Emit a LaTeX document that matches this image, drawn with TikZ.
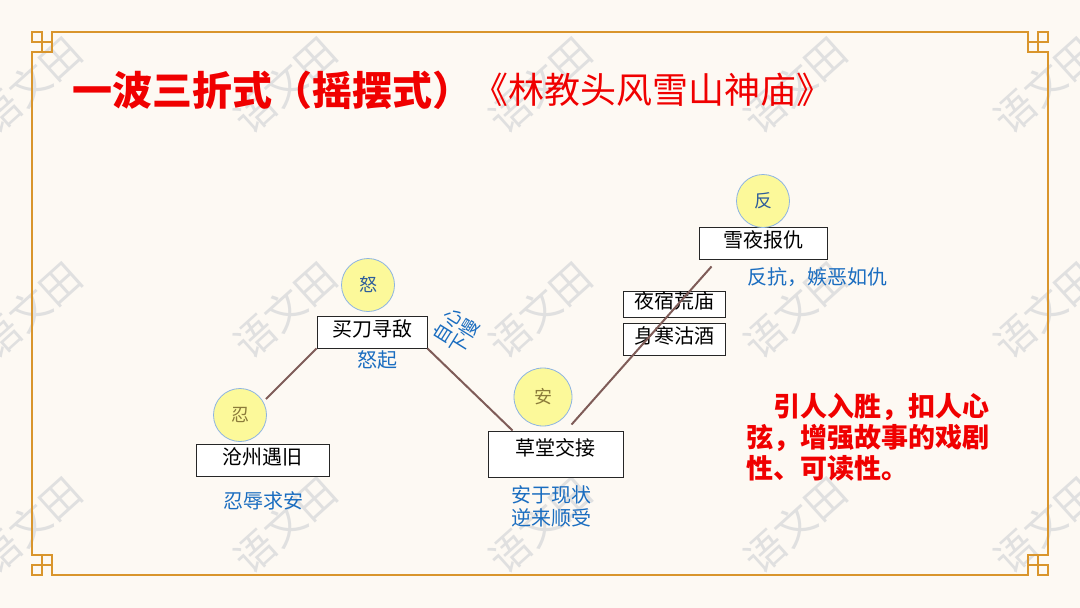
\documentclass[tikz,border=0pt]{standalone}
\usepackage{fontspec}
\setmainfont{Noto Sans CJK SC}
\usetikzlibrary{
  calc,
  positioning
}

\definecolor{paper}{HTML}{FDF9F3}
\definecolor{framegold}{HTML}{D9952C}
\definecolor{moodfill}{HTML}{FCF99A}
\definecolor{moodedge}{HTML}{8DB4E2}
\definecolor{moodbrown}{HTML}{8B7B3B}
\definecolor{moodblue}{HTML}{2E5D9A}
\definecolor{noteblue}{HTML}{1A6DC0}
\definecolor{trendbrown}{HTML}{7F5C58}
\definecolor{titlered}{HTML}{F00000}

\begin{document}
\begin{tikzpicture}[x=1pt, y=-1pt]

\tikzset{
  event/.style={
    draw=black!85,
    fill=white,
    line width=0.9pt,
    inner sep=0pt,
    text depth=7pt,
    font=\fontsize{20}{22}\selectfont
  },
  mood/.style={
    draw=moodedge,
    circle,
    fill=moodfill,
    line width=0.8pt,
    minimum size=53pt,
    inner sep=0pt,
    font=\fontsize{18}{20}\selectfont
  },
  note/.style={
    text=noteblue,
    inner sep=0pt,
    align=center,
    font=\fontsize{20}{23}\selectfont
  },
  trend/.style={
    draw=trendbrown,
    line width=2pt
  },
  wmark/.style={
    text=black!12,
    rotate=42,
    inner sep=0pt,
    font=\fontsize{40}{40}\selectfont
  },
  frame/.style={
    draw=framegold,
    line width=2.4pt
  }
}

% Background
\fill[paper] (0,0) rectangle (1080,608);
\useasboundingbox (0,0) rectangle (1080,608);

% Watermarks
\foreach \wx in {30,285,540,795,1045}
  \foreach \wy in {85,310,525}
    \node[wmark] (w-\wx-\wy) at (\wx,\wy) {语文田};

% Frame
\draw[frame] (52,32) -- (1028,32) -- (1028,52) -- (1048,52) -- (1048,555) -- (1028,555)
  -- (1028,575) -- (52,575) -- (52,555) -- (32,555) -- (32,52) -- (52,52) -- cycle;
\foreach \cx/\cy/\sx/\sy in {32/32/1/1, 1048/32/-1/1, 32/575/1/-1, 1048/575/-1/-1}
  \draw[frame] (\cx,\cy) rectangle ++(10*\sx,10*\sy)
    -- ++(10*\sx,0) ++(-10*\sx,0) -- ++(0,10*\sy);

% Title
\node[anchor=west, inner sep=0pt, text=titlered, font=\fontsize{40}{44}\selectfont\bfseries] (t1) at (72,90) {一波三折式（摇摆式）};
\node[right=0pt of t1, inner sep=0pt, text=titlered, font=\fontsize{36}{40}\selectfont] (t2) {《林教头风雪山神庙》};

% Nodes events
\node[event, minimum width=133pt, minimum height=32pt] (e1) at (262.5,460) {沧州遇旧};
\node[event, minimum width=110pt, minimum height=32pt] (e2) at (372,332)   {买刀寻敌};
\node[event, minimum width=135pt, minimum height=46pt, text depth=13pt] (e3) at (555.5,454) {草堂交接};
\node[event, minimum width=102pt, minimum height=26pt] (e4) at (674,304)   {夜宿荒庙};
\node[event, minimum width=102pt, minimum height=32pt] (e5) at (674,339)   {身寒沽酒};
\node[event, minimum width=128pt, minimum height=32pt] (e6) at (763,243)   {雪夜报仇};

% Nodes moods
\node[mood, text=moodbrown]                   (m1) at (240,415) {忍};
\node[mood, text=moodblue]                    (m2) at (368,285) {怒};
\node[mood, text=moodbrown, minimum size=58pt] (m3) at (543,397) {安};
\node[mood, text=moodblue]                    (m4) at (763,201) {反};

% Notes
\node[note] (n1) at (263,501) {忍辱求安};
\node[note] (n2) at (377,360) {怒起};
\node[note] (n3) at (551,506) {安于现状\\逆来顺受};
\node[note] (n4) at (817,277) {反抗，嫉恶如仇};
\node[note, rotate=58, font=\fontsize{19}{20}\selectfont] (n5) at (456,331) {自心\\下慢};

% Effect
\node[anchor=north west, align=left, inner sep=0pt, text=titlered, font=\fontsize{27}{31}\selectfont\bfseries] (b1) at (746,393)
  {　引人入胜，扣人心\\弦，增强故事的戏剧\\性、可读性。};

% Trend lines
\draw[trend] ($(m1)+(26,-16)$)      -- (e2.south west);
\draw[trend] (e2.south east)        -- ($(e3.north west)+(25,0)$);
\draw[trend] ($(e3.north west)+(84,-6)$) -- ($(e6.south west)+(13,7)$);

\end{tikzpicture}
\end{document}
